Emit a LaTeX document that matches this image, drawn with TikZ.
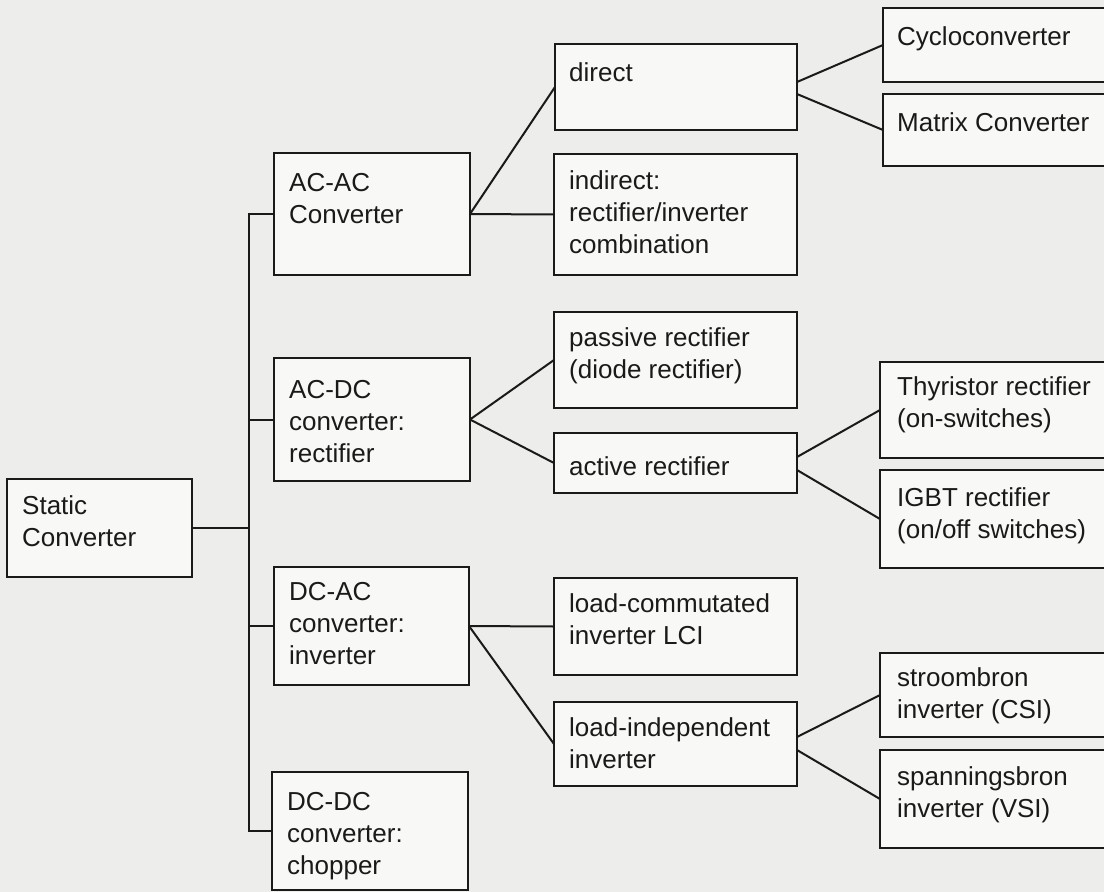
\documentclass[tikz,border=0pt]{standalone}
\usepackage{fontspec}
\setmainfont{Liberation Sans}
\usetikzlibrary{calc}
\definecolor{paper}{HTML}{EDEDEB}
\definecolor{boxfill}{HTML}{F8F8F6}
\definecolor{ink}{HTML}{1A1A1A}
% fixed first-line height so every label starts at the same place
\newcommand\firstline{\rule{0pt}{20pt}}
\begin{document}
\begin{tikzpicture}[x=1pt,y=-1pt,
  box/.style={draw=ink, line width=2pt, fill=boxfill, anchor=north west,
              inner sep=0pt, outer sep=0pt},
  lbl/.style={anchor=north west, align=left, inner sep=0pt, text=ink,
              font=\fontsize{26}{32}\selectfont},
  link/.style={draw=ink, line width=2pt}]
\clip (0,0) rectangle (1104,892);
\fill[paper] (0,0) rectangle (1104,892);

% level 0
\node[box, minimum width=185, minimum height=98] (static) at (7,479) {};
\node[lbl] (static-t) at ($(static.north west)+(15,15)$) {\firstline Static\\Converter};

% level 1
\node[box, minimum width=196, minimum height=122] (acac) at (274,153) {};
\node[lbl] (acac-t) at ($(acac.north west)+(15,18)$) {\firstline AC-AC\\Converter};
\node[box, minimum width=196, minimum height=123] (acdc) at (274,358) {};
\node[lbl] (acdc-t) at ($(acdc.north west)+(15,20)$) {\firstline AC-DC\\converter:\\rectifier};
\node[box, minimum width=195, minimum height=118] (dcac) at (274,567) {};
\node[lbl] (dcac-t) at ($(dcac.north west)+(15,13)$) {\firstline DC-AC\\converter:\\inverter};
\node[box, minimum width=196, minimum height=118] (dcdc) at (272,772) {};
\node[lbl] (dcdc-t) at ($(dcdc.north west)+(15,18)$) {\firstline DC-DC\\converter:\\chopper};

% level 2
\node[box, minimum width=242, minimum height=86] (direct) at (555,44) {};
\node[lbl] (direct-t) at ($(direct.north west)+(14,17)$) {\firstline direct};
\node[box, minimum width=243, minimum height=121] (indirect) at (554,154) {};
\node[lbl] (indirect-t) at ($(indirect.north west)+(15,15)$) {\firstline indirect:\\rectifier/inverter\\combination};
\node[box, minimum width=243, minimum height=96] (passive) at (554,312) {};
\node[lbl] (passive-t) at ($(passive.north west)+(15,14)$) {\firstline passive rectifier\\(diode rectifier)};
\node[box, minimum width=243, minimum height=60] (active) at (554,433) {};
\node[lbl] (active-t) at ($(active.north west)+(15,22)$) {\firstline active rectifier};
\node[box, minimum width=243, minimum height=97] (lci) at (554,578) {};
\node[lbl] (lci-t) at ($(lci.north west)+(15,14)$) {\firstline load-commutated\\inverter LCI};
\node[box, minimum width=243, minimum height=84] (lii) at (554,702) {};
\node[lbl] (lii-t) at ($(lii.north west)+(15,14)$) {\firstline load-independent\\inverter};

% level 3
\node[box, minimum width=240, minimum height=74] (cyclo) at (883,8) {};
\node[lbl] (cyclo-t) at ($(cyclo.north west)+(14,17)$) {\firstline Cycloconverter};
\node[box, minimum width=240, minimum height=72] (matrix) at (883,94) {};
\node[lbl] (matrix-t) at ($(matrix.north west)+(14,17)$) {\firstline Matrix Converter};
\node[box, minimum width=240, minimum height=96] (thyr) at (880,362) {};
\node[lbl] (thyr-t) at ($(thyr.north west)+(17,13)$) {\firstline Thyristor rectifier\\(on-switches)};
\node[box, minimum width=240, minimum height=98] (igbt) at (880,470) {};
\node[lbl] (igbt-t) at ($(igbt.north west)+(17,16)$) {\firstline IGBT rectifier\\(on/off switches)};
\node[box, minimum width=240, minimum height=84] (csi) at (880,653) {};
\node[lbl] (csi-t) at ($(csi.north west)+(17,13)$) {\firstline stroombron\\inverter (CSI)};
\node[box, minimum width=240, minimum height=98] (vsi) at (880,750) {};
\node[lbl] (vsi-t) at ($(vsi.north west)+(17,15)$) {\firstline spanningsbron\\inverter (VSI)};

% trunk from the root to the four converter classes
\coordinate (trunk) at (249,0);
\draw[link] (static.east) -- (static.east -| trunk);
\draw[link] (acac.west) -- (acac.west -| trunk) -- (dcdc.west -| trunk) -- (dcdc.west);
\draw[link] (acdc.west) -- (acdc.west -| trunk);
\draw[link] (dcac.west) -- (dcac.west -| trunk);

% branches
\draw[link] (acac.east) -- (direct.west);
\draw[link] (acac.east) -- (indirect.west);
\draw[link] ($(direct.east)+(0,-5)$) -- (cyclo.west);
\draw[link] ($(direct.east)+(0,7)$) -- (matrix.west);
\draw[link] (acdc.east) -- (passive.west);
\draw[link] (acdc.east) -- (active.west);
\draw[link] ($(active.east)+(0,-6)$) -- (thyr.west);
\draw[link] ($(active.east)+(0,7)$) -- (igbt.west);
\draw[link] (dcac.east) -- (lci.west);
\draw[link] (dcac.east) -- (lii.west);
\draw[link] ($(lii.east)+(0,-7)$) -- (csi.west);
\draw[link] ($(lii.east)+(0,6)$) -- (vsi.west);
\end{tikzpicture}
\end{document}
